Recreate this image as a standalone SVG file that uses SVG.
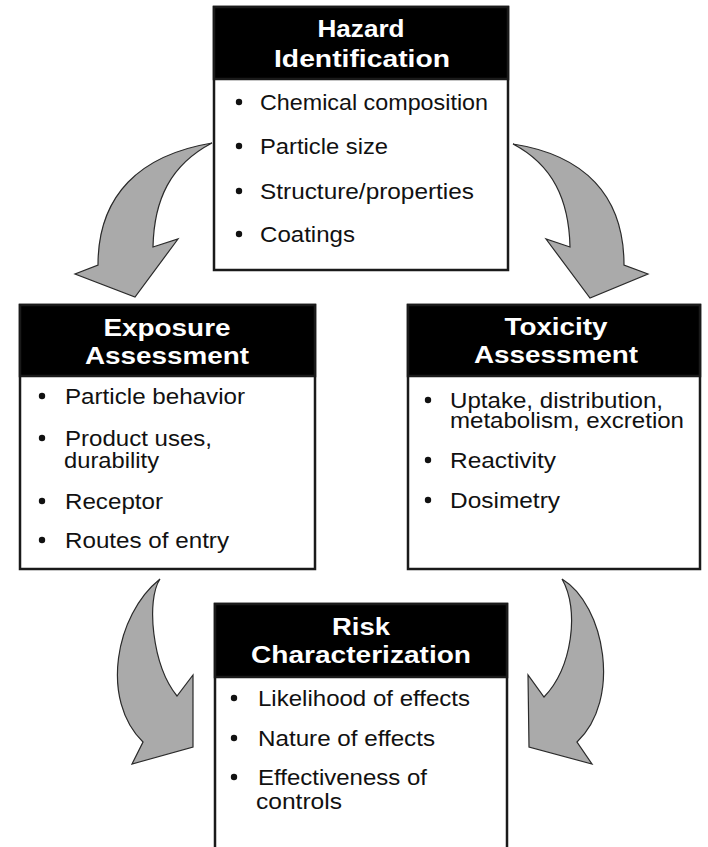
<svg xmlns="http://www.w3.org/2000/svg" width="708" height="847" viewBox="0 0 708 847">
<style>
.box{fill:#fff;stroke:#1a1a1a;stroke-width:2.5}
.hdr{fill:#000;stroke:#1a1a1a;stroke-width:2.5}
.ht{font-family:"Liberation Sans",Arial,Helvetica,sans-serif;font-weight:bold;font-size:23px;fill:#fff;text-anchor:middle}
.bt{font-family:"Liberation Sans",Arial,Helvetica,sans-serif;font-size:22.5px;fill:#111}
.dot{fill:#111}
.arrow{fill:#aaaaaa;stroke:#2a2a2a;stroke-width:1.2;stroke-linejoin:miter}
</style>
<rect width="708" height="847" fill="#fff"/>
<g id="connectors">
<path class="arrow" d="M212,143 C140,155 98,195 98,265 L75,274 L135,297 L178,239 L153,247 C154,200 170,165 212,143 Z"/>
<path class="arrow" d="M513,144 C584,155 624,195 624,265 L648,274 L590,298 L546,239 L570,247 C569,200 553,165 513,144 Z"/>
<path class="arrow" d="M160,579 C115,615 100,700 143,742 L132,764 L193,747 L193,675 L177,696 C152,665 146,600 160,579 Z"/>
<path class="arrow" d="M562,579 C605,605 622,700 577,742 L592,764 L529,747 L528,675 L544,697 C572,668 580,610 562,579 Z"/>
</g>
<g id="hazard">
<rect class="box" x="214" y="7" width="294" height="263"/>
<rect class="hdr" x="214" y="7" width="294" height="72"/>
<text class="ht" x="361" y="37" textLength="87" lengthAdjust="spacingAndGlyphs">Hazard</text>
<text class="ht" x="362" y="67" textLength="176" lengthAdjust="spacingAndGlyphs">Identification</text>
<circle class="dot" cx="239" cy="102" r="3.2"/>
<circle class="dot" cx="239" cy="146" r="3.2"/>
<circle class="dot" cx="239" cy="191" r="3.2"/>
<circle class="dot" cx="239" cy="234" r="3.2"/>
<text class="bt" x="260" y="110" textLength="228" lengthAdjust="spacingAndGlyphs">Chemical composition</text>
<text class="bt" x="260" y="154" textLength="128" lengthAdjust="spacingAndGlyphs">Particle size</text>
<text class="bt" x="260" y="199" textLength="214" lengthAdjust="spacingAndGlyphs">Structure/properties</text>
<text class="bt" x="260" y="242" textLength="95" lengthAdjust="spacingAndGlyphs">Coatings</text>
</g>
<g id="exposure">
<rect class="box" x="20" y="305" width="295" height="264"/>
<rect class="hdr" x="20" y="305" width="295" height="71"/>
<text class="ht" x="167" y="336" textLength="127" lengthAdjust="spacingAndGlyphs">Exposure</text>
<text class="ht" x="167" y="364" textLength="164" lengthAdjust="spacingAndGlyphs">Assessment</text>
<circle class="dot" cx="42" cy="396" r="3.2"/>
<circle class="dot" cx="42" cy="438" r="3.2"/>
<circle class="dot" cx="42" cy="501" r="3.2"/>
<circle class="dot" cx="42" cy="540" r="3.2"/>
<text class="bt" x="65" y="404" textLength="180" lengthAdjust="spacingAndGlyphs">Particle behavior</text>
<text class="bt" x="65" y="446" textLength="147" lengthAdjust="spacingAndGlyphs">Product uses,</text>
<text class="bt" x="64" y="468" textLength="95" lengthAdjust="spacingAndGlyphs">durability</text>
<text class="bt" x="65" y="509" textLength="98" lengthAdjust="spacingAndGlyphs">Receptor</text>
<text class="bt" x="65" y="548" textLength="164" lengthAdjust="spacingAndGlyphs">Routes of entry</text>
</g>
<g id="toxicity">
<rect class="box" x="408" y="305" width="292" height="264"/>
<rect class="hdr" x="408" y="305" width="292" height="71"/>
<text class="ht" x="556" y="335" textLength="103" lengthAdjust="spacingAndGlyphs">Toxicity</text>
<text class="ht" x="556" y="363" textLength="164" lengthAdjust="spacingAndGlyphs">Assessment</text>
<circle class="dot" cx="428" cy="400" r="3.2"/>
<circle class="dot" cx="428" cy="460" r="3.2"/>
<circle class="dot" cx="428" cy="500" r="3.2"/>
<text class="bt" x="450" y="408" textLength="213" lengthAdjust="spacingAndGlyphs">Uptake, distribution,</text>
<text class="bt" x="450" y="428" textLength="234" lengthAdjust="spacingAndGlyphs">metabolism, excretion</text>
<text class="bt" x="450" y="468" textLength="106" lengthAdjust="spacingAndGlyphs">Reactivity</text>
<text class="bt" x="450" y="508" textLength="110" lengthAdjust="spacingAndGlyphs">Dosimetry</text>
</g>
<g id="risk">
<rect class="box" x="215" y="604" width="292" height="270"/>
<rect class="hdr" x="215" y="604" width="292" height="73"/>
<text class="ht" x="361" y="635" textLength="58" lengthAdjust="spacingAndGlyphs">Risk</text>
<text class="ht" x="361" y="663" textLength="220" lengthAdjust="spacingAndGlyphs">Characterization</text>
<circle class="dot" cx="234" cy="698" r="3.2"/>
<circle class="dot" cx="234" cy="738" r="3.2"/>
<circle class="dot" cx="234" cy="777" r="3.2"/>
<text class="bt" x="258" y="706" textLength="212" lengthAdjust="spacingAndGlyphs">Likelihood of effects</text>
<text class="bt" x="258" y="746" textLength="177" lengthAdjust="spacingAndGlyphs">Nature of effects</text>
<text class="bt" x="258" y="785" textLength="169" lengthAdjust="spacingAndGlyphs">Effectiveness of</text>
<text class="bt" x="256" y="809" textLength="86" lengthAdjust="spacingAndGlyphs">controls</text>
</g>
</svg>
